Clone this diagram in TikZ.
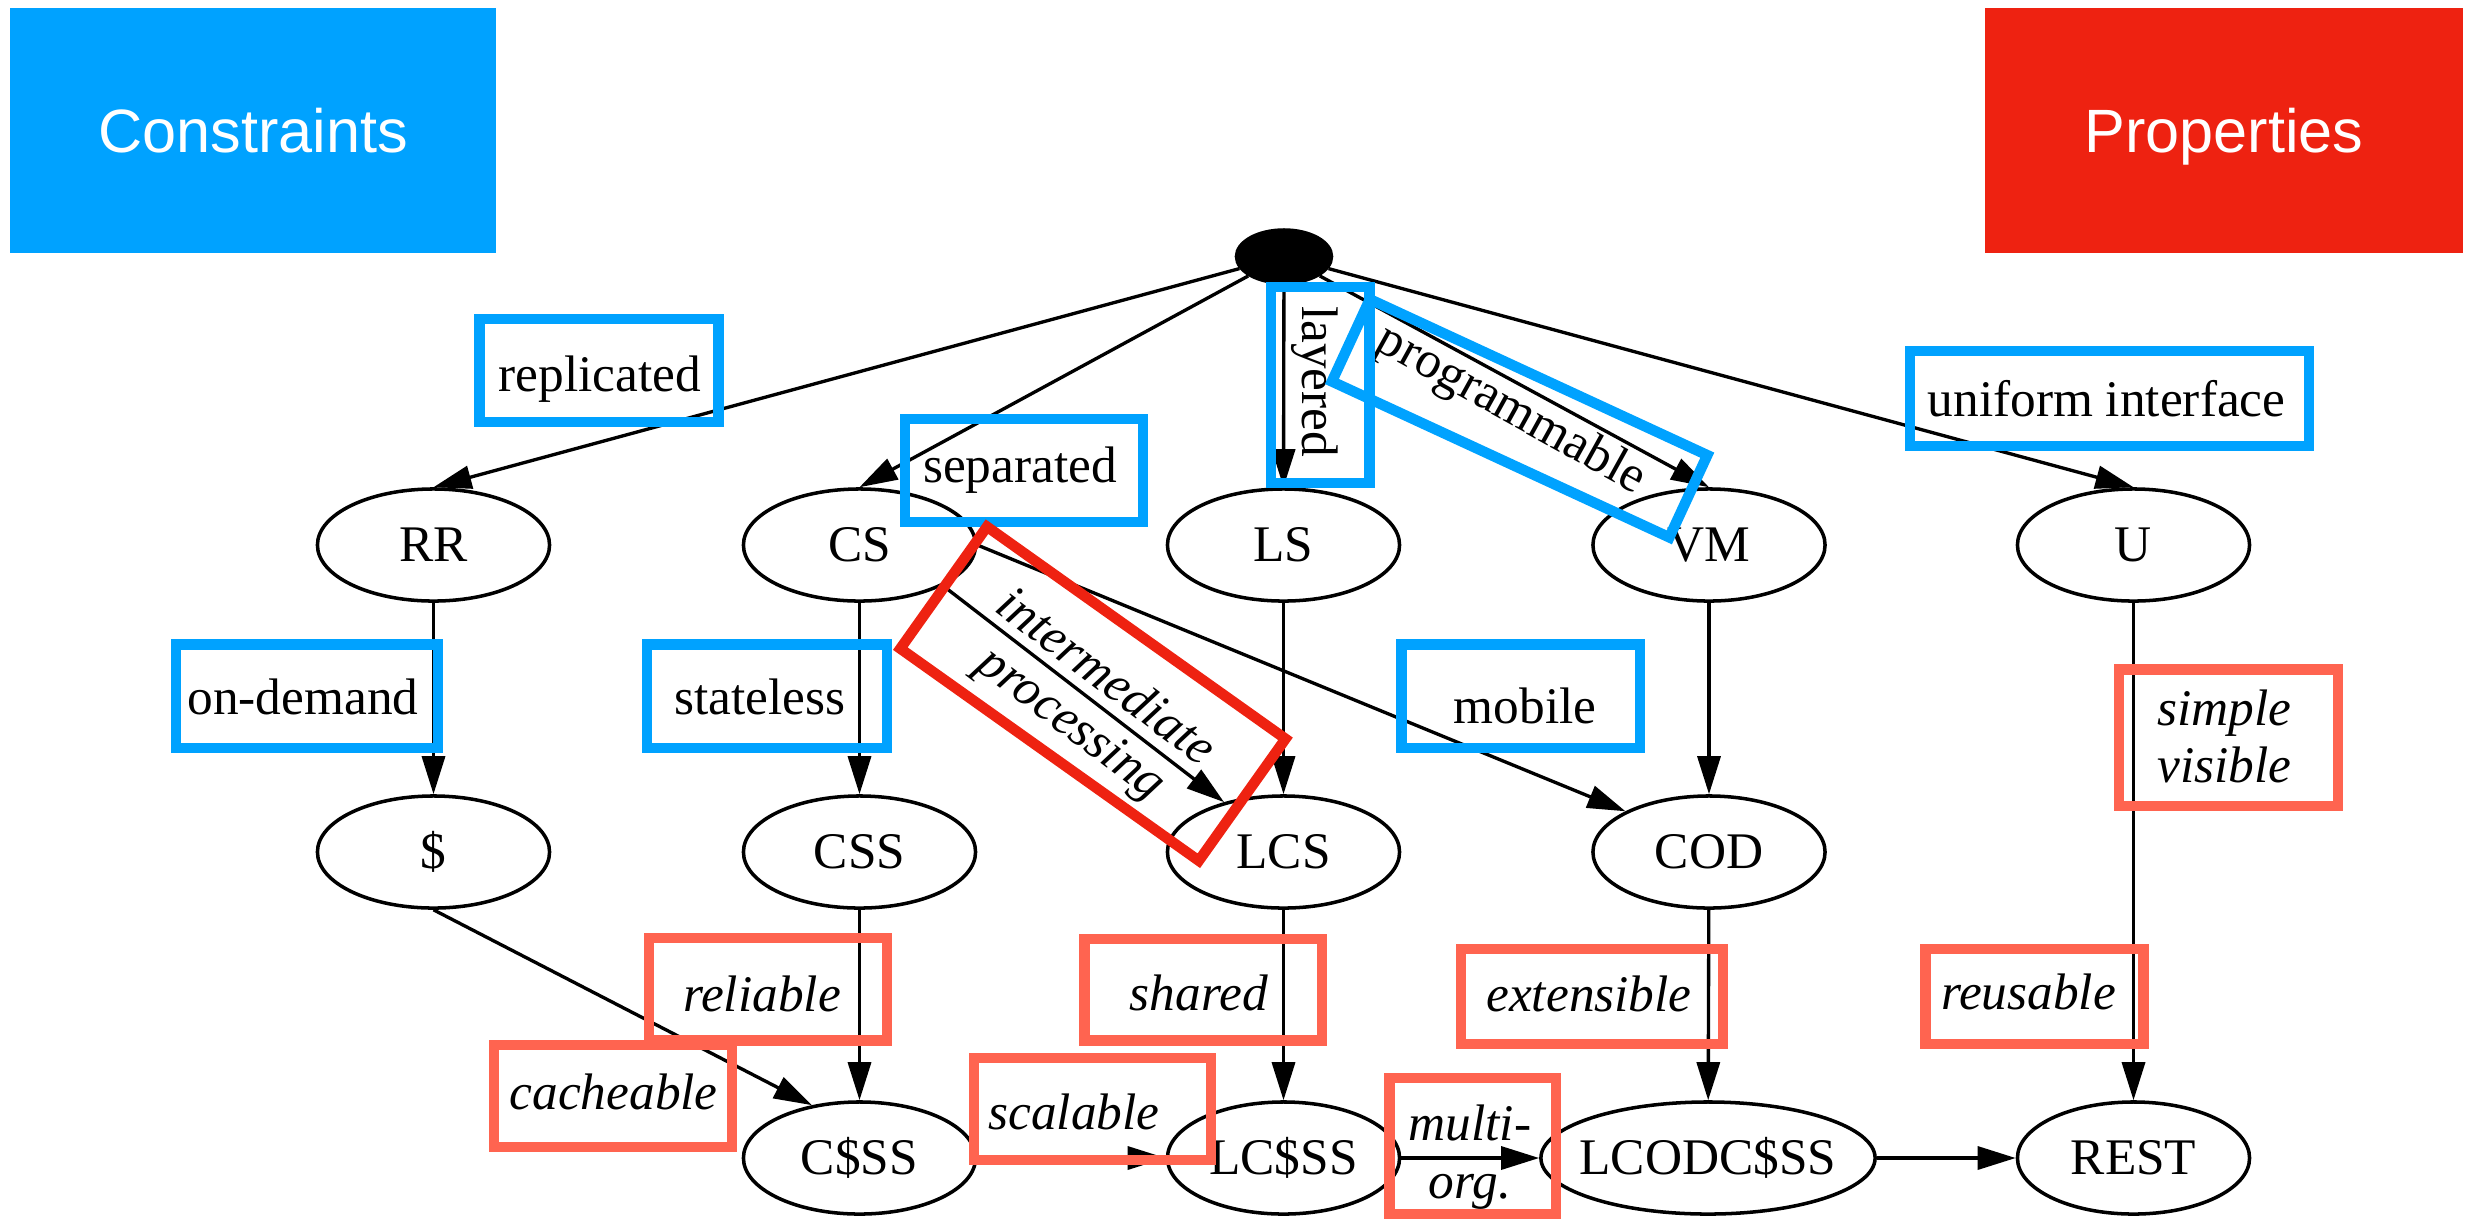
\documentclass[tikz,border=0pt]{standalone}
\usepackage{fontspec}
\setmainfont{Liberation Serif}
\newfontfamily\hdrfont{Liberation Sans}
\usetikzlibrary{shapes.geometric,arrows.meta}
\definecolor{cblue}{RGB}{0,162,255}
\definecolor{cred}{RGB}{238,34,17}
\definecolor{csalmon}{RGB}{255,100,80}
\newcommand\ellnode[3]{%
  \node[ell] (#1) at (#2) {};
  \node[elltext] (#1-t) at (#1) {#3};}
\begin{document}
\begin{tikzpicture}[x=0.01cm, y=-0.01cm,
  ell/.style={ellipse, draw, line width=1pt, minimum width=2.32cm,
    minimum height=1.12cm, inner sep=0pt},
  elltext/.style={font=\fontsize{14.6}{16.2}\selectfont, inner sep=0pt,
    text height=9.56pt, text depth=0pt},
  edge/.style={draw, line width=0.95pt,
    -{Triangle[length=0.38cm, width=0.23cm]}},
  lbl/.style={font=\fontsize{14.6}{16.2}\selectfont, inner sep=0pt, anchor=base},
  ilbl/.style={lbl, font=\fontsize{14.6}{16.2}\selectfont\itshape},
  cbox/.style={draw=cblue, line width=0.105cm},
  pbox/.style={draw=csalmon, line width=0.105cm},
  hdr/.style={inner sep=0pt, minimum width=4.86cm, minimum height=2.45cm,
    text=white, font=\hdrfont\fontsize{17.4}{20}\selectfont,
    text height=12.46pt, text depth=0pt}]
\useasboundingbox (0,0) rectangle (2481,1220);

% headers
\node[hdr, fill=cblue] (hdrC) at (253,130.5) {Constraints};
\node[hdr, fill=cred, minimum width=4.78cm] (hdrP) at (2224,130.5) {Properties};

% graph nodes
\node[ellipse, draw, fill=black, line width=1pt, minimum width=0.95cm,
  minimum height=0.53cm, inner sep=0pt] (root) at (1284,256.5) {};
\ellnode{RR}{433.5,545}{RR}
\ellnode{CS}{859.5,545}{CS}
\ellnode{LS}{1283.5,545}{LS}
\ellnode{VM}{1709,545}{VM}
\ellnode{U}{2133.5,545}{U}
\ellnode{DOL}{433.5,852}{\$}
\ellnode{CSS}{859.5,852}{CSS}
\ellnode{LCS}{1283.5,852}{LCS}
\ellnode{COD}{1709,852}{COD}
\ellnode{CDSS}{859.5,1158}{C\$SS}
\ellnode{LCDSS}{1283.5,1158}{LC\$SS}
\node[ell, minimum width=3.34cm] (LCOD) at (1708,1158) {};
\node[elltext] (LCOD-t) at (LCOD) {LCODC\$SS};
\ellnode{REST}{2133.5,1158}{REST}

% connectors
\draw[edge] (root) -- (RR.north);
\draw[edge] (root) -- (CS.north);
\draw[edge] (root) -- (LS.north);
\draw[edge] (root) -- (VM.north);
\draw[edge] (root) -- (U.north);
\draw[edge] (RR) -- (DOL);
\draw[edge] (CS) -- (CSS);
\draw[edge] (CS.-26) -- (LCS.140);
\draw[edge] (CS.east) -- (COD.154);
\draw[edge] (LS) -- (LCS);
\draw[edge] (VM) -- (COD);
\draw[edge] (U) -- (REST);
\draw[edge] (DOL.south) -- (CDSS.132);
\draw[edge] (CSS) -- (CDSS);
\draw[edge] (LCS) -- (LCDSS);
\draw[edge] (COD) -- (LCOD);
\draw[edge] (CDSS) -- (LCDSS);
\draw[edge] (LCDSS) -- (LCOD);
\draw[edge] (LCOD) -- (REST);

% edge labels: constraints
\node[lbl] (tRep) at (600,391.7) {replicated};
\node[lbl] (tSep) at (1020,482.7) {separated};
\node[lbl, rotate=-90] (tLay) at (1302,381.7) {layered};
\node[lbl, rotate=-29] (tProg) at (1504.7,421.5) {programmable};
\node[lbl] (tUni) at (2106.6,416) {uniform interface};
\node[lbl] (tOnd) at (303,714.7) {on-demand};
\node[lbl] (tSta) at (760,714.7) {stateless};
\node[lbl] (tMob) at (1525,723.4) {mobile};

% edge labels: properties
\node[ilbl, rotate=-37] (tInt) at (1097,689) {intermediate};
\node[ilbl, rotate=-37] (tPro) at (1063,735) {processing};
\node[ilbl] (tSim) at (2224.5,725.7) {simple};
\node[ilbl] (tVis) at (2224.5,782.7) {visible};
\node[ilbl] (tRel) at (762,1011) {reliable};
\node[ilbl] (tSha) at (1198.8,1010) {shared};
\node[ilbl] (tExt) at (1589,1011) {extensible};
\node[ilbl] (tReu) at (2028.5,1009) {reusable};
\node[ilbl] (tCac) at (613.7,1109.3) {cacheable};
\node[ilbl] (tSca) at (1074,1129.9) {scalable};
\node[ilbl] (tMul) at (1470,1140.7) {multi-};
\node[ilbl] (tOrg) at (1470,1198.3) {org.};

% constraint frames
\draw[cbox] (479.5,319) rectangle (718.6,422);
\draw[cbox] (905,419) rectangle (1143,522);
\draw[cbox] (1271,287) rectangle (1369.5,483);
\node[cbox, rotate=-24.8, minimum width=3.715cm, minimum height=0.905cm,
  inner sep=0pt] (progbox) at (1519.6,418.3) {};
\draw[cbox] (1910,351) rectangle (2309,446);
\draw[cbox] (176,644.5) rectangle (438,748);
\draw[cbox] (647,644.5) rectangle (887,748);
\draw[cbox] (1401.7,644.5) rectangle (1640,748);

% property frames
\node[draw=cred, line width=0.105cm, rotate=-35.4, minimum width=3.66cm,
  minimum height=1.495cm, inner sep=0pt] (ipbox) at (1092.9,693.7) {};
\draw[pbox] (2118.8,669.5) rectangle (2338,805.8);
\draw[pbox] (649,938) rectangle (887,1040.6);
\draw[pbox] (1084.5,939) rectangle (1322,1040.6);
\draw[pbox] (1461,949) rectangle (1723,1044);
\draw[pbox] (1925.6,949) rectangle (2143.6,1044);
\draw[pbox] (494,1045) rectangle (732,1147);
\draw[pbox] (974,1058) rectangle (1211,1160);
\draw[pbox] (1389.4,1078) rectangle (1556,1214);
\end{tikzpicture}
\end{document}
